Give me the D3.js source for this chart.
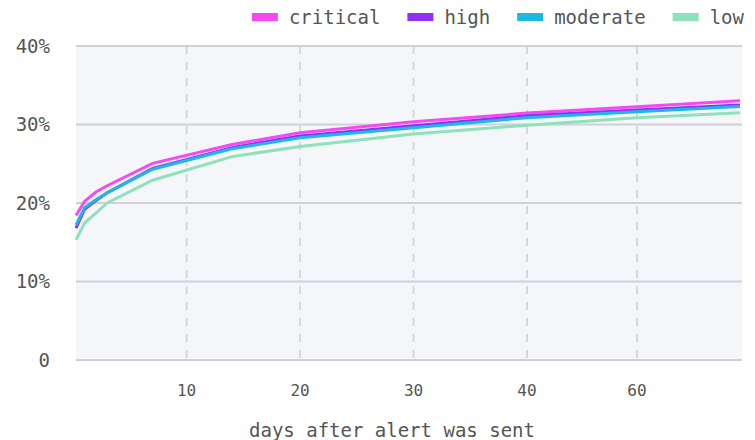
<!DOCTYPE html>
<html>
<head>
<meta charset="utf-8">
<script src="https://cdn.jsdelivr.net/npm/d3@7"></script>
<style>
  body { margin: 0; background: #fff; }
  text { font-family: 'DejaVu Sans Mono', 'Liberation Mono', monospace; fill: #555; }
</style>
</head>
<body>
<svg id="chart" width="755" height="440"></svg>
<script>
// days after the alert, and share of alerts acted on (%) per severity
const days = [0.25, 1, 2, 3, 7, 14, 20, 30, 40, 60, 90];
const critical = [18.4, 20.2, 21.4, 22.2, 25.05, 27.45, 28.95, 30.35, 31.45, 32.27, 33.03];
const high = [16.8, 19.2, 20.3, 21.3, 24.4, 27.05, 28.55, 29.85, 31.1, 31.85, 32.5];
const moderate = [17.2, 19.4, 20.4, 21.3, 24.3, 26.9, 28.3, 29.6, 30.87, 31.63, 32.3];
const low = [15.3, 17.45, 18.7, 20.0, 22.9, 25.9, 27.2, 28.8, 29.9, 30.87, 31.5];

const severities = ['critical', 'high', 'moderate', 'low'];
const seriesValues = {critical, high, moderate, low};
const colors = {critical: '#f54af0', high: '#9130f5', moderate: '#1db9e3', low: '#8ee2b9'};

const xTicks = [10, 20, 30, 40, 60];
const yTicks = [0, 0.1, 0.2, 0.3, 0.4];
const xTitle = 'days after alert was sent';

const svg = d3.select('#chart');

const plot = {left: 76, right: 742, top: 46, bottom: 360};

// axis is linear up to 40 days, then compressed
const xScale = d3.scaleLinear()
  .domain([0.25, 40, 60, 90])
  .range([plot.left, 527, 637, 740]);

const yScale = d3.scaleLinear()
  .domain([0, 0.4])
  .range([plot.bottom, plot.top]);

// background
svg.append('rect')
  .attr('x', plot.left)
  .attr('y', plot.top)
  .attr('width', plot.right - plot.left)
  .attr('height', plot.bottom - plot.top)
  .attr('fill', '#f5f6fa');

// vertical dashed grid
svg.append('g')
  .selectAll('line')
  .data(xTicks)
  .enter()
  .append('line')
  .attr('x1', d => xScale(d))
  .attr('x2', d => xScale(d))
  .attr('y1', plot.top)
  .attr('y2', plot.bottom)
  .attr('stroke', '#d6d6dc')
  .attr('stroke-width', 2)
  .attr('stroke-dasharray', '8,8');

// horizontal grid
svg.append('g')
  .selectAll('line')
  .data(yTicks)
  .enter()
  .append('line')
  .attr('x1', plot.left)
  .attr('x2', plot.right)
  .attr('y1', d => yScale(d))
  .attr('y2', d => yScale(d))
  .attr('stroke', '#d0d0d6')
  .attr('stroke-width', 2);

// y labels
svg.append('g')
  .selectAll('text')
  .data(yTicks)
  .enter()
  .append('text')
  .attr('x', 50)
  .attr('y', d => yScale(d))
  .attr('dy', '0.35em')
  .attr('text-anchor', 'end')
  .style('font-size', '19px')
  .text(d => d === 0 ? '0' : d3.format('.0%')(d));

// x labels
svg.append('g')
  .selectAll('text')
  .data(xTicks)
  .enter()
  .append('text')
  .attr('x', d => xScale(d))
  .attr('y', 390)
  .attr('dy', '0.35em')
  .attr('text-anchor', 'middle')
  .style('font-size', '16px')
  .text(d => d);

svg.append('text')
  .attr('x', 392)
  .attr('y', 430)
  .attr('dy', '0.35em')
  .attr('text-anchor', 'middle')
  .style('font-size', '19px')
  .text(xTitle);

// lines
const line = d3.line()
  .x((d, i) => xScale(days[i]))
  .y(d => yScale(d / 100));

const drawOrder = ['low', 'critical', 'high', 'moderate'];

svg.append('g')
  .selectAll('path')
  .data(drawOrder)
  .enter()
  .append('path')
  .attr('d', s => line(seriesValues[s]))
  .attr('fill', 'none')
  .attr('stroke', s => colors[s])
  .attr('stroke-width', 3);

// legend, right aligned
const legend = svg.append('g');
let legendX = 0;
severities.forEach((s, i) => {
  const item = legend.append('g').attr('transform', 'translate(' + legendX + ',0)');
  item.append('rect')
    .attr('x', 0)
    .attr('y', 13)
    .attr('width', 26)
    .attr('height', 8)
    .attr('fill', colors[s]);
  const label = item.append('text')
    .attr('x', 37)
    .attr('y', 17)
    .attr('dy', '0.35em')
    .style('font-size', '19px')
    .text(s);
  legendX += 37 + label.node().getComputedTextLength() + 27;
});
legend.attr('transform', 'translate(' + (744 - (legendX - 27)) + ',0)');
</script>
</body>
</html>
